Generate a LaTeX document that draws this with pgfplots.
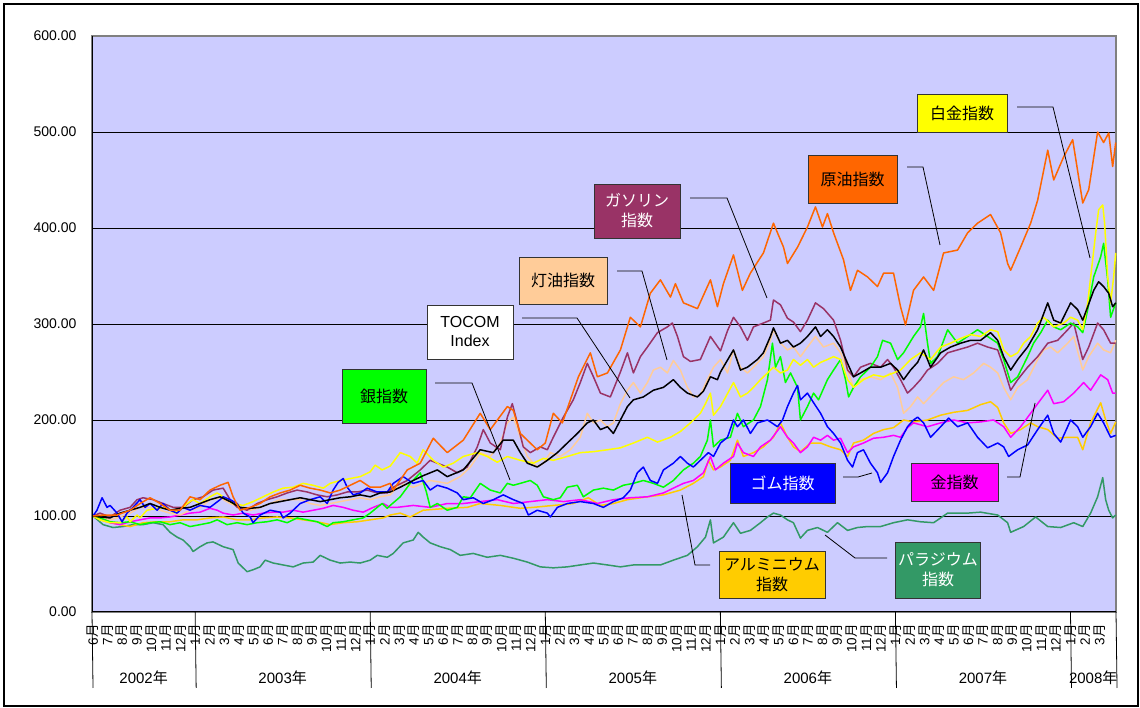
\documentclass[border=0pt]{standalone}
\usepackage{fontspec}
\setmainfont{Liberation Sans}
\newfontfamily\cjk{Noto Sans CJK JP}
\usepackage{pgfplots}
\pgfplotsset{compat=1.18}
\definecolor{plotbg}{HTML}{CCCCFF}
\definecolor{crude}{HTML}{FF6600}
\definecolor{gas}{HTML}{993366}
\definecolor{kero}{HTML}{FFCC99}
\definecolor{silver}{HTML}{00FF00}
\definecolor{rubber}{HTML}{0000FF}
\definecolor{gold}{HTML}{FF00FF}
\definecolor{alum}{HTML}{FFCC00}
\definecolor{pall}{HTML}{339966}
\definecolor{plat}{HTML}{FFFF00}
\newcommand\M[1]{#1{\cjk 月}}
\newcommand\Y[1]{#1{\cjk 年}}
\begin{document}
\begin{tikzpicture}[x=1pt,y=1pt]
\useasboundingbox (0,0) rectangle (1140,708);
\draw[black, line width=1.2pt] (4,2) rectangle (1138,704);
\begin{axis}[
  at={(92pt,96pt)}, anchor=south west,
  width=1024pt, height=576pt, scale only axis,
  xmin=-0.07, xmax=70.12, ymin=0, ymax=600,
  axis background/.style={fill=plotbg},
  axis line style={draw=black!50, line width=1.2pt},
  ytick={0,100,...,600}, ymajorgrids,
  grid style={black, line width=0.8pt},
  yticklabel style={font=\fontsize{14}{16}\selectfont, xshift=-12pt,
    /pgf/number format/fixed, /pgf/number format/fixed zerofill,
    /pgf/number format/precision=2, /pgf/number format/assume math mode=true},
  xtick={0,...,69},
  xticklabels={\M6,\M7,\M8,\M9,\M{10},\M{11},\M{12},
    \M1,\M2,\M3,\M4,\M5,\M6,\M7,\M8,\M9,\M{10},\M{11},\M{12},
    \M1,\M2,\M3,\M4,\M5,\M6,\M7,\M8,\M9,\M{10},\M{11},\M{12},
    \M1,\M2,\M3,\M4,\M5,\M6,\M7,\M8,\M9,\M{10},\M{11},\M{12},
    \M1,\M2,\M3,\M4,\M5,\M6,\M7,\M8,\M9,\M{10},\M{11},\M{12},
    \M1,\M2,\M3,\M4,\M5,\M6,\M7,\M8,\M9,\M{10},\M{11},\M{12},
    \M1,\M2,\M3},
  xticklabel style={yshift=-12pt, rotate=90, anchor=east, font=\fontsize{13.5}{13.5}\selectfont, inner sep=0pt},
  major tick length=0pt,
  clip=false,
  every axis plot/.append style={line width=1.5pt, no markers, line join=round},
]
% Palladium
\addplot[pall] coordinates {(0,100) (0.69,91) (1.37,88) (2.06,89) (2.74,91) (3.43,91) (4.12,93) (4.80,91) (5.28,83) (5.76,78) (6.17,75) (6.65,68) (6.86,63) (7.34,68) (7.82,72) (8.23,73) (8.92,68) (9.60,65) (9.95,51) (10.56,42) (10.97,44) (11.45,47) (11.80,54) (12.35,51) (13.03,49) (13.72,47) (14.40,51) (15.09,52) (15.57,59) (16.26,54) (16.94,51) (17.63,52) (18.31,51) (19.00,54) (19.48,59) (20.17,57) (20.58,61) (21.26,72) (21.95,75) (22.29,83) (22.63,78) (23.11,72) (23.80,68) (24.49,65) (25.17,59) (26.06,61) (27.02,57) (27.92,59) (28.81,56) (29.77,52) (30.66,47) (31.55,46) (32.51,47) (33.40,49) (34.30,51) (35.26,49) (36.15,47) (37.04,49) (38.00,49) (38.89,49) (39.78,54) (40.74,59) (41.43,68) (41.98,78) (42.32,96) (42.53,72) (43.21,78) (43.90,93) (44.38,82) (45.06,85) (45.75,93) (46.23,99) (46.64,103) (47.12,101) (47.60,96) (48.01,93) (48.49,77) (48.97,85) (49.66,88) (50.34,83) (51.03,93) (51.72,85) (52.40,88) (53.09,89) (53.98,89) (54.87,93) (55.83,96) (56.72,94) (57.62,93) (58.58,103) (59.95,103) (60.84,104) (62.01,101) (62.69,93) (62.90,83) (63.79,89) (64.61,99) (65.44,89) (66.33,88) (67.22,93) (67.84,89) (68.38,103) (68.86,120) (69.21,140) (69.41,117) (69.62,106) (69.89,98) (70.10,101)};
% Aluminium
\addplot[alum] coordinates {(0,100) (0.48,96) (1.17,93) (1.85,91) (2.54,89) (3.43,93) (4.39,94) (5.28,94) (6.17,96) (7.13,96) (8.02,98) (8.92,99) (9.88,96) (10.77,96) (11.66,98) (12.62,99) (13.51,98) (14.40,96) (15.36,94) (16.26,91) (17.15,93) (18.11,94) (19.00,96) (19.89,98) (20.37,101) (21.06,103) (21.74,99) (22.63,106) (24.28,108) (25.65,109) (26.54,113) (27.92,111) (29.29,108) (30.18,109) (31.55,111) (32.92,113) (33.95,119) (34.78,111) (35.67,113) (36.63,117) (38.00,120) (39.10,122) (40.26,127) (41.15,134) (41.84,141) (42.18,158) (42.53,148) (43.01,151) (43.69,158) (44.17,179) (44.58,162) (45.27,166) (45.95,172) (46.64,182) (47.12,197) (47.60,182) (48.01,172) (48.49,167) (49.18,176) (49.87,176) (50.55,172) (51.24,169) (51.72,162) (52.13,176) (52.81,179) (53.50,186) (54.19,190) (54.87,192) (55.56,200) (56.24,198) (57.20,200) (58.10,205) (58.99,208) (59.95,210) (60.84,216) (61.52,219) (62.01,213) (62.42,197) (62.90,186) (63.58,190) (64.27,197) (64.75,193) (65.44,190) (66.12,181) (66.81,182) (67.49,182) (67.84,169) (68.38,197) (69.07,218) (69.41,200) (69.75,186) (70.10,198)};
% Gold
\addplot[gold] coordinates {(0,100) (0.48,98) (1.17,93) (1.85,91) (2.54,94) (3.22,96) (3.91,98) (4.60,98) (5.28,99) (5.97,101) (6.65,103) (7.34,104) (8.02,108) (8.51,106) (8.92,103) (9.60,101) (10.29,103) (10.97,101) (11.66,103) (12.35,104) (13.03,104) (13.72,106) (14.40,104) (15.09,106) (15.78,108) (16.46,111) (17.15,109) (17.83,106) (18.52,104) (19.21,109) (19.89,113) (20.37,109) (20.85,109) (21.95,111) (23.11,109) (24.28,113) (25.38,113) (26.54,115) (27.71,117) (28.81,113) (29.97,115) (31.14,117) (32.24,115) (33.40,117) (34.57,113) (35.67,117) (36.83,119) (38.00,120) (39.10,124) (39.78,129) (40.47,134) (41.15,137) (41.84,145) (42.32,162) (42.66,148) (43.21,155) (43.90,162) (44.17,176) (44.58,166) (45.27,162) (45.75,172) (46.43,179) (47.12,193) (47.60,182) (48.01,176) (48.49,166) (48.97,172) (49.39,182) (49.87,179) (50.34,184) (50.76,179) (51.24,181) (51.72,166) (52.13,172) (52.81,176) (53.50,181) (54.19,182) (54.87,184) (55.35,182) (55.83,192) (56.24,197) (57.20,193) (58.10,197) (58.99,200) (59.95,197) (60.84,198) (61.73,200) (62.42,193) (62.90,182) (63.58,193) (64.27,207) (64.75,217) (65.44,231) (65.85,217) (66.53,219) (67.22,228) (67.90,239) (68.38,231) (69.07,247) (69.55,242) (69.89,228) (70.10,228)};
% Kerosene
\addplot[kero] coordinates {(0,100) (0.48,99) (1.17,96) (1.85,99) (2.54,103) (3.22,109) (3.91,109) (4.60,106) (5.28,103) (5.97,101) (6.65,106) (7.34,109) (8.02,117) (8.71,119) (9.40,113) (10.08,109) (10.77,106) (11.45,109) (12.14,113) (12.83,117) (13.51,117) (14.20,117) (14.88,113) (15.57,111) (16.26,113) (16.94,115) (17.63,117) (18.31,119) (19.00,117) (19.68,120) (20.37,122) (21.06,134) (21.95,130) (23.11,137) (24.28,134) (25.17,141) (25.86,151) (26.54,166) (27.23,162) (27.92,176) (28.40,197) (28.81,203) (29.29,182) (29.77,162) (30.45,151) (30.87,155) (31.35,166) (32.03,162) (32.72,169) (33.40,182) (33.88,207) (34.30,197) (34.78,200) (35.26,193) (35.67,197) (36.15,217) (36.63,231) (37.04,239) (37.52,228) (38.00,239) (38.41,252) (38.89,255) (39.37,249) (39.78,262) (40.26,252) (40.74,234) (41.15,224) (41.63,226) (42.11,242) (42.53,255) (43.01,263) (43.49,249) (43.90,273) (44.38,255) (44.86,249) (45.27,255) (45.95,266) (46.43,283) (46.64,294) (47.12,280) (47.60,273) (48.01,276) (48.49,266) (48.97,276) (49.52,287) (50.07,276) (50.76,280) (51.24,270) (51.72,252) (52.13,234) (52.61,242) (53.29,245) (53.98,242) (54.67,249) (55.15,234) (55.56,207) (56.04,214) (56.52,224) (56.93,217) (57.62,228) (58.30,239) (58.99,245) (59.67,242) (60.36,249) (61.05,259) (61.52,255) (62.01,249) (62.42,234) (62.90,221) (63.38,234) (64.06,242) (64.75,263) (65.16,273) (65.64,276) (66.12,270) (66.81,280) (67.22,287) (67.84,252) (68.25,266) (68.86,280) (69.27,273) (69.75,270) (70.10,283)};
% Gasoline
\addplot[gas] coordinates {(0,100) (0.48,103) (1.17,99) (1.85,106) (2.54,109) (3.02,117) (3.43,119) (4.12,117) (4.80,113) (5.49,109) (6.17,109) (6.86,117) (7.54,120) (8.23,127) (8.92,129) (9.40,117) (9.88,109) (10.56,106) (11.25,113) (11.93,117) (12.62,120) (13.31,124) (13.99,127) (14.68,125) (15.36,122) (16.05,120) (16.74,122) (17.42,125) (18.11,125) (18.79,127) (19.48,124) (20.17,124) (20.58,130) (21.54,137) (22.43,148) (23.11,158) (23.60,155) (24.28,151) (24.97,145) (25.65,151) (26.34,172) (26.75,190) (27.23,176) (27.92,169) (28.40,203) (28.74,217) (29.08,197) (29.49,172) (29.97,166) (30.66,172) (31.14,169) (31.55,182) (32.24,203) (32.92,221) (33.40,239) (33.88,259) (34.30,245) (34.78,228) (35.46,224) (36.15,250) (36.63,270) (37.04,249) (37.52,266) (38.00,276) (38.69,291) (39.37,297) (39.71,301) (40.06,287) (40.47,266) (40.95,261) (41.63,263) (42.32,287) (43.01,272) (43.49,293) (43.90,307) (44.38,297) (44.86,283) (45.27,297) (45.95,301) (46.43,304) (46.64,325) (47.12,320) (47.60,306) (48.01,302) (48.49,292) (48.97,304) (49.52,322) (50.07,316) (50.76,304) (51.24,283) (51.72,252) (52.13,245) (52.61,255) (53.29,259) (53.98,255) (54.46,263) (54.87,255) (55.35,242) (55.83,228) (56.24,234) (56.72,242) (57.20,252) (57.89,259) (58.58,270) (59.26,273) (59.95,276) (60.63,280) (61.32,276) (62.01,273) (62.42,255) (62.90,231) (63.38,242) (64.06,255) (64.75,266) (65.44,280) (66.12,283) (66.81,294) (67.22,301) (67.84,263) (68.25,276) (68.86,301) (69.27,294) (69.75,280) (70.10,280)};
% Silver
\addplot[silver] coordinates {(0,100) (0.48,98) (1.17,94) (1.85,93) (2.54,94) (3.22,91) (3.91,93) (4.60,94) (5.28,91) (5.97,93) (6.65,89) (7.34,91) (8.02,93) (8.51,96) (9.19,91) (9.88,93) (10.56,91) (11.25,93) (11.93,94) (12.62,96) (13.31,93) (13.99,98) (14.68,96) (15.36,94) (16.05,89) (16.46,93) (17.15,94) (17.83,96) (18.52,98) (19.00,103) (19.48,109) (19.82,113) (20.17,108) (20.37,111) (21.06,120) (21.74,134) (22.43,145) (22.85,125) (23.11,109) (23.60,113) (24.28,106) (24.97,109) (25.38,120) (25.86,119) (26.54,134) (27.23,127) (27.92,124) (28.40,134) (28.81,132) (29.29,134) (29.97,137) (30.45,132) (30.87,120) (31.55,117) (32.03,119) (32.51,130) (33.20,132) (33.61,120) (34.30,127) (34.98,129) (35.67,127) (36.35,132) (37.04,134) (37.72,137) (38.41,134) (39.10,130) (39.78,137) (40.47,148) (41.15,155) (41.63,162) (42.11,179) (42.32,200) (42.53,172) (43.01,179) (43.69,182) (44.17,207) (44.58,193) (45.27,200) (45.75,214) (46.23,242) (46.57,280) (46.78,255) (47.12,266) (47.46,239) (47.81,249) (48.29,234) (48.49,200) (48.97,214) (49.39,228) (49.73,221) (50.34,242) (50.76,252) (51.24,263) (51.58,242) (51.79,224) (52.13,234) (52.61,245) (53.29,255) (53.77,266) (54.12,283) (54.67,280) (55.15,263) (55.56,270) (56.24,287) (56.72,297) (56.93,311) (57.20,280) (57.41,259) (57.89,266) (58.58,294) (59.26,280) (59.95,287) (60.63,294) (61.32,287) (62.01,280) (62.42,263) (62.90,239) (63.38,245) (64.06,266) (64.47,280) (64.96,291) (65.44,304) (65.85,297) (66.33,294) (67.01,301) (67.49,297) (67.84,291) (68.18,315) (68.59,349) (69.07,370) (69.27,384) (69.55,346) (69.75,307) (70.10,322)};
% Platinum
\addplot[plat] coordinates {(0,100) (0.48,96) (1.17,93) (1.85,93) (2.33,99) (2.54,94) (3.02,101) (3.22,98) (3.70,106) (4.39,108) (5.08,109) (5.49,104) (5.97,106) (6.45,113) (6.86,117) (7.34,113) (8.02,120) (8.51,124) (8.92,120) (9.60,113) (10.29,111) (10.97,115) (11.66,120) (12.35,125) (13.03,129) (13.72,130) (14.40,134) (15.09,132) (15.78,129) (16.26,134) (16.94,137) (17.63,139) (18.31,141) (19.00,146) (19.34,153) (19.82,148) (20.37,152) (21.06,166) (21.74,162) (22.22,155) (22.63,169) (23.32,158) (24.01,151) (24.69,155) (25.38,162) (26.34,166) (27.02,162) (27.71,156) (28.40,162) (29.29,158) (30.18,155) (30.87,160) (31.55,158) (32.51,162) (33.40,166) (34.30,167) (35.26,169) (36.15,171) (37.04,176) (38.00,182) (38.69,177) (39.58,182) (40.26,188) (40.95,197) (41.63,207) (41.98,217) (42.32,228) (42.53,205) (43.01,214) (43.90,239) (44.38,224) (44.86,228) (45.27,234) (45.75,242) (46.23,249) (46.64,255) (47.12,249) (47.60,252) (48.01,263) (48.49,257) (48.97,263) (49.39,255) (49.87,260) (50.34,263) (50.76,266) (51.24,263) (51.72,242) (52.13,234) (52.81,242) (53.50,247) (54.19,245) (54.87,249) (55.35,252) (56.04,263) (56.72,270) (57.41,263) (58.10,276) (58.78,280) (59.47,285) (60.15,289) (60.84,287) (61.52,294) (62.01,292) (62.42,273) (62.90,266) (63.38,270) (63.79,280) (64.27,287) (64.75,301) (65.16,307) (65.85,297) (66.53,301) (67.01,307) (67.49,304) (67.84,294) (68.18,322) (68.52,367) (68.73,395) (68.93,419) (69.21,424) (69.34,405) (69.55,349) (69.75,322) (69.96,349) (70.10,374)};
% Rubber
\addplot[rubber] coordinates {(0,100) (0.27,106) (0.62,119) (0.96,109) (1.17,111) (1.65,103) (1.99,94) (2.33,103) (2.74,109) (3.22,117) (3.57,109) (3.91,113) (4.39,106) (4.80,113) (5.28,106) (5.76,103) (6.17,109) (6.65,106) (7.34,111) (8.02,109) (8.71,117) (8.92,120) (9.40,117) (9.88,113) (10.29,103) (10.77,99) (10.97,93) (11.45,101) (12.14,106) (12.83,104) (13.03,98) (13.51,103) (14.20,113) (14.88,117) (15.57,120) (16.05,113) (16.46,127) (16.80,135) (17.15,139) (17.42,130) (17.83,122) (18.31,124) (18.79,129) (19.48,125) (20.17,125) (20.58,134) (21.26,141) (21.95,134) (22.63,137) (23.11,127) (23.60,132) (24.28,129) (24.97,124) (25.38,117) (26.06,119) (26.75,113) (27.44,117) (28.12,122) (28.81,117) (29.49,113) (29.84,101) (30.45,106) (31.14,103) (31.35,99) (31.83,109) (32.51,113) (33.40,115) (34.30,113) (34.98,109) (35.67,115) (36.35,119) (36.83,127) (37.31,145) (37.72,151) (38.20,137) (38.69,134) (39.10,148) (39.78,155) (40.26,162) (40.74,155) (41.15,151) (41.63,158) (42.18,166) (42.53,162) (43.01,176) (43.49,182) (43.90,200) (44.17,193) (44.58,200) (45.06,186) (45.54,197) (46.23,200) (46.92,193) (47.26,200) (47.60,214) (48.01,228) (48.29,236) (48.49,221) (48.97,228) (49.39,218) (49.87,207) (50.34,193) (50.76,186) (51.24,176) (51.72,158) (52.06,151) (52.40,166) (52.81,169) (53.29,155) (53.77,145) (53.98,135) (54.46,145) (54.87,162) (55.35,179) (55.83,193) (56.24,200) (56.52,203) (56.93,197) (57.41,182) (58.10,193) (58.65,202) (59.26,193) (59.95,197) (60.63,182) (61.32,171) (62.01,176) (62.42,172) (62.76,162) (63.38,169) (64.06,174) (64.75,190) (65.44,205) (65.85,186) (66.33,177) (67.01,200) (67.49,193) (67.84,182) (68.38,193) (68.86,207) (69.27,197) (69.75,182) (70.10,184)};
% TOCOM Index
\addplot[black] coordinates {(0,100) (0.48,99) (1.17,98) (1.85,103) (2.54,106) (3.22,109) (3.91,113) (4.60,109) (5.28,106) (5.97,108) (6.65,109) (7.34,113) (8.02,117) (8.71,120) (9.40,115) (10.08,109) (10.77,108) (11.45,109) (12.14,113) (12.83,115) (13.51,117) (14.20,119) (14.88,117) (15.57,115) (16.26,117) (16.94,119) (17.63,120) (18.31,122) (19.00,120) (19.68,124) (20.37,125) (21.06,130) (21.95,137) (22.63,142) (23.60,148) (24.28,141) (25.38,148) (26.54,169) (27.44,166) (28.12,179) (28.81,179) (29.29,166) (29.77,155) (30.45,151) (31.14,158) (31.83,166) (32.51,176) (33.20,186) (33.88,197) (34.30,200) (34.78,190) (35.26,193) (35.67,186) (36.15,200) (36.63,214) (37.04,221) (37.72,224) (38.41,231) (39.10,234) (39.78,242) (40.26,234) (40.74,228) (41.43,224) (41.84,230) (42.32,245) (42.80,242) (43.01,250) (43.90,273) (44.38,252) (44.86,255) (45.54,263) (45.95,270) (46.43,287) (46.64,296) (47.12,280) (47.60,283) (48.01,276) (48.49,280) (48.97,287) (49.52,297) (49.87,287) (50.34,294) (50.76,287) (51.24,276) (51.72,259) (52.13,245) (52.61,249) (53.29,255) (53.98,255) (54.67,259) (55.15,252) (55.56,242) (56.04,252) (56.52,260) (56.93,273) (57.41,255) (58.10,270) (58.78,276) (59.47,280) (60.15,283) (60.84,283) (61.52,291) (62.01,283) (62.42,266) (62.90,252) (63.38,263) (64.06,276) (64.75,294) (65.44,322) (65.85,304) (66.33,301) (67.01,322) (67.49,315) (67.84,304) (68.18,318) (68.59,335) (68.93,344) (69.27,339) (69.62,332) (69.89,318) (70.10,322)};
% Crude oil
\addplot[crude] coordinates {(0,100) (0.69,101) (1.65,101) (2.54,106) (3.22,113) (3.91,119) (4.60,113) (5.28,106) (5.97,106) (6.65,120) (7.34,117) (8.02,127) (8.71,132) (9.26,135) (9.60,120) (10.08,106) (10.77,109) (11.45,113) (12.14,120) (12.83,124) (13.51,127) (14.20,132) (14.88,129) (15.57,127) (16.26,124) (16.94,127) (17.63,132) (18.31,137) (19.00,130) (19.68,130) (20.37,134) (20.58,127) (21.54,148) (22.43,155) (23.32,181) (24.28,166) (25.38,179) (26.54,207) (27.23,190) (28.40,214) (28.81,210) (29.29,186) (29.97,176) (30.45,169) (31.00,176) (31.55,207) (32.17,197) (33.27,245) (34.09,270) (34.57,245) (35.26,249) (36.15,273) (36.83,307) (37.52,297) (38.20,332) (38.89,346) (39.58,328) (39.92,342) (40.47,322) (41.43,316) (42.32,346) (42.80,318) (43.21,342) (43.90,372) (44.51,335) (45.06,353) (45.95,374) (46.64,405) (47.33,380) (47.60,363) (48.29,380) (48.97,401) (49.52,422) (50.00,401) (50.34,415) (50.76,395) (51.44,367) (51.92,335) (52.40,356) (53.09,349) (53.77,339) (54.19,353) (54.87,353) (55.35,318) (55.69,299) (56.24,335) (56.93,349) (57.62,335) (58.30,374) (59.26,377) (59.95,395) (60.63,405) (61.52,414) (62.21,395) (62.69,363) (62.90,356) (63.58,380) (64.27,405) (64.75,429) (65.44,481) (65.85,450) (66.53,474) (67.15,492) (67.84,426) (68.25,440) (68.86,500) (69.27,489) (69.62,499) (69.89,464) (70.10,489)};
% axes in black
\draw[black, line width=1pt] (rel axis cs:0,1) -- (rel axis cs:0,0) -- (rel axis cs:1,0);
% year separators
\pgfplotsinvokeforeach{-0.07,7,19,31,43,55,67,70.12}{
  \draw[black, line width=0.8pt] (axis cs:#1,0) -- ++(0,-76pt);
}
\node[font=\fontsize{15}{15}\selectfont, yshift=-66pt] at (axis cs:3.47,0) {\Y{2002}};
\node[font=\fontsize{15}{15}\selectfont, yshift=-66pt] at (axis cs:13,0) {\Y{2003}};
\node[font=\fontsize{15}{15}\selectfont, yshift=-66pt] at (axis cs:25,0) {\Y{2004}};
\node[font=\fontsize{15}{15}\selectfont, yshift=-66pt] at (axis cs:37,0) {\Y{2005}};
\node[font=\fontsize{15}{15}\selectfont, yshift=-66pt] at (axis cs:49,0) {\Y{2006}};
\node[font=\fontsize{15}{15}\selectfont, yshift=-66pt] at (axis cs:61,0) {\Y{2007}};
\node[font=\fontsize{15}{15}\selectfont, yshift=-66pt] at (axis cs:68.56,0) {\Y{2008}};
\end{axis}
\tikzset{box/.style={draw=black!80, line width=0.9pt, align=center, inner sep=0pt,
  font=\fontsize{16}{20}\selectfont\cjk}}
% leader lines
\draw[black, line width=0.8pt] (1017,601) -- (1053,601) -- (1090,450);
\draw[black, line width=0.8pt] (907,541) -- (923,541) -- (940,463);
\draw[black, line width=0.8pt] (690,510) -- (727,510) -- (767,410);
\draw[black, line width=0.8pt] (617,437) -- (642,437) -- (667,348);
\draw[black, line width=0.8pt] (522,390) -- (577,390) -- (630,310);
\draw[black, line width=0.8pt] (435,325) -- (472,325) -- (510,228);
\draw[black, line width=0.8pt] (843,231) -- (858,231) -- (872,235);
\draw[black, line width=0.8pt] (1007,231) -- (1020,231) -- (1035,305);
\draw[black, line width=0.8pt] (710,143) -- (695,143) -- (682,213);
\draw[black, line width=0.8pt] (887,150) -- (855,150) -- (825,173);
% boxes
\node[box, fill=plat, minimum width=90pt, minimum height=38pt] at (962,595) {白金指数};
\node[box, fill=crude, minimum width=89pt, minimum height=48pt] at (852.5,529) {原油指数};
\node[box, fill=gas, text=white, minimum width=86pt, minimum height=54pt] at (637,497) {ガソリン\\指数};
\node[box, fill=kero, minimum width=88pt, minimum height=47pt] at (563,427.5) {灯油指数};
\node[box, fill=white, minimum width=86pt, minimum height=54pt, font=\fontsize{16}{19}\selectfont] at (470,376) {TOCOM\\Index};
\node[box, fill=silver, minimum width=84pt, minimum height=54pt] at (384,312) {銀指数};
\node[box, fill=rubber, text=white, minimum width=105pt, minimum height=40pt] at (782.5,225) {ゴム指数};
\node[box, fill=gold, minimum width=87pt, minimum height=38pt] at (954.5,226) {金指数};
\node[box, fill=alum, minimum width=106pt, minimum height=47pt] at (772,133.5) {アルミニウム\\指数};
\node[box, fill=pall, text=white, minimum width=85pt, minimum height=56pt] at (938,138) {パラジウム\\指数};
\end{tikzpicture}
\end{document}
